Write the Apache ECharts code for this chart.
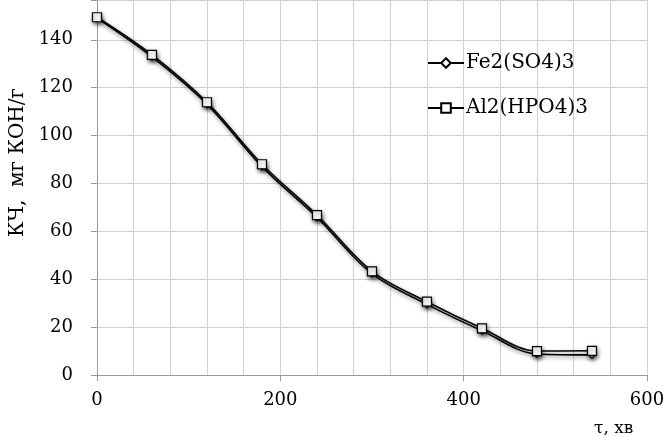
<!DOCTYPE html>
<html>
<head>
<meta charset="utf-8">
<script src="https://cdn.jsdelivr.net/npm/echarts@6/dist/echarts.min.js"></script>
<style>
  html, body { margin: 0; padding: 0; background: #fff; }
  #chart { width: 667px; height: 437px; }
</style>
</head>
<body>
<div id="chart"></div>
<script>
// Time, minutes
const timeMin = [0, 60, 120, 180, 240, 300, 360, 420, 480, 540];
// Acid number, mg KOH/g
const fe2so4 = [149, 132.8, 113, 87, 65.8, 42.3, 29.5, 18.5, 8.8, 8.4];
const al2hpo4 = [149.4, 133.7, 113.9, 88.0, 66.8, 43.3, 30.6, 19.5, 10.0, 10.1];

const seriesNames = ['Fe2(SO4)3', 'Al2(HPO4)3'];
const yTitle = 'КЧ,  мг КОН/г';
const xTitle = 'τ, хв';

const FONT = 'DejaVu Serif';
const shadow = { shadowBlur: 4, shadowColor: 'rgba(0,0,0,0.45)', shadowOffsetX: 1, shadowOffsetY: 2 };

function pairs(xs, ys) { return xs.map((x, i) => [x, ys[i]]); }

function lineSeries(name, values, symbol, size) {
  return {
    name: name,
    type: 'line',
    data: pairs(timeMin, values),
    smooth: 0.35,
    symbol: symbol,
    symbolSize: size,
    showSymbol: true,
    lineStyle: Object.assign({ color: '#000', width: 1.6 }, shadow),
    itemStyle: Object.assign({ color: '#fff', borderColor: '#000', borderWidth: 1.2 }, shadow),
    emphasis: { disabled: true },
    animation: false
  };
}

const chart = echarts.init(document.getElementById('chart'));
chart.setOption({
  backgroundColor: '#fff',
  animation: false,
  grid: { left: 97, right: 20, top: 0, bottom: 62, containLabel: false, outerBoundsMode: 'none' },
  legend: {
    orient: 'vertical',
    left: 422,
    top: 48,
    itemWidth: 36,
    itemHeight: 12,
    itemGap: 25,
    textStyle: { fontFamily: FONT, fontSize: 20, color: '#000', padding: [0, 0, 0, -3] },
    data: seriesNames
  },
  xAxis: {
    type: 'value',
    min: 0,
    max: 600,
    interval: 200,
    name: xTitle,
    nameLocation: 'end',
    nameGap: -53,
    nameTextStyle: { fontFamily: FONT, fontSize: 17, color: '#000', align: 'left', verticalAlign: 'top', padding: [45, 0, 0, 0] },
    axisLine: { show: true, lineStyle: { color: '#9a9a9a', width: 1 } },
    axisTick: { show: true, length: 6, lineStyle: { color: '#9a9a9a' } },
    axisLabel: { fontFamily: FONT, fontSize: 18, color: '#000', margin: 16 },
    splitLine: { show: true, lineStyle: { color: '#d0d0d0', width: 1 } },
    minorTick: { show: true, splitNumber: 5, length: 0, lineStyle: { color: 'transparent' } },
    minorSplitLine: { show: true, lineStyle: { color: '#d0d0d0', width: 1 } }
  },
  yAxis: {
    type: 'value',
    min: 0,
    max: 156.6,
    interval: 20,
    name: yTitle,
    nameLocation: 'middle',
    nameRotate: 90,
    nameGap: 66,
    nameTextStyle: { fontFamily: FONT, fontSize: 20, color: '#000', padding: [0, 0, 0, 50] },
    axisLine: { show: true, lineStyle: { color: '#9a9a9a', width: 1 } },
    axisTick: { show: true, length: 6, lineStyle: { color: '#9a9a9a' } },
    axisLabel: {
      fontFamily: FONT, fontSize: 18, color: '#000', margin: 24,
      formatter: v => (Math.abs(v % 20) < 1e-6 ? String(v) : '')
    },
    splitLine: { show: true, lineStyle: { color: '#d0d0d0', width: 1 } }
  },
  series: [
    lineSeries(seriesNames[0], fe2so4, 'diamond', 7),
    lineSeries(seriesNames[1], al2hpo4, 'rect', 9)
  ]
});
</script>
</body>
</html>
